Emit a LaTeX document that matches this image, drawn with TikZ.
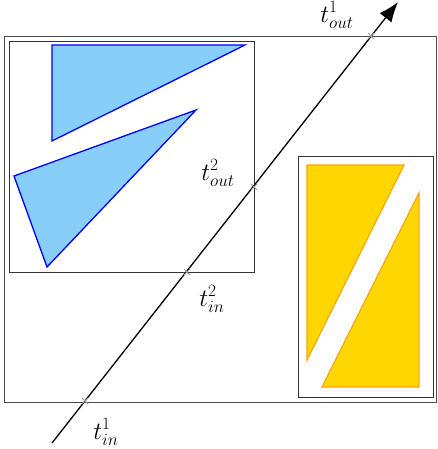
\documentclass[tikz,border=0pt]{standalone}
\usetikzlibrary{arrows.meta}
\definecolor{skyb}{RGB}{135,206,250}
\definecolor{goldy}{RGB}{255,215,0}
\definecolor{orangey}{RGB}{255,165,0}
\begin{document}
\begin{tikzpicture}[x=1pt,y=-1pt,
  box/.style={draw=black!80,line width=0.9pt},
  outerbox/.style={draw=black!70,line width=0.9pt},
  bluetri/.style={fill=skyb,draw=blue,line width=1.3pt,line join=miter},
  goldtri/.style={fill=goldy,draw=orangey,line width=1.2pt},
  cross/.style={draw=black!40,line width=0.9pt},
  lbl/.style={font=\fontsize{27}{30}\selectfont,inner sep=0pt}]
\useasboundingbox (0,0) rectangle (438,449);
\draw[outerbox] (4,36) rectangle (436,402);
\draw[box] (9,41) rectangle (254,272);
\draw[box] (298,156) rectangle (433,397);
\draw[bluetri] (52,45) -- (245,45) -- (52,141) -- cycle;
\draw[bluetri] (14,176) -- (196,110) -- (47,267) -- cycle;
\draw[goldtri] (307,165) -- (404,165) -- (307,360) -- cycle;
\draw[goldtri] (419,193) -- (419,387) -- (322,387) -- cycle;
\coordinate (s) at (52,443);
\coordinate (e) at (398,2);
\draw[line width=1.3pt,-{Latex[length=20pt,width=15pt]}] (s) -- (e);
\foreach \n/\x/\y in {a/85/401,b/187/272,c/254/187,d/371/36}{
  \coordinate (\n) at (\x,\y);
  \draw[cross] (\x-3,\y-3) -- (\x+3,\y+3) (\x-3,\y+3) -- (\x+3,\y-3);
}
\node[lbl] (l1) at (106,432) {$t^1_{in}$};
\node[lbl] (l2) at (212,299) {$t^2_{in}$};
\node[lbl] (l3) at (218,173) {$t^2_{out}$};
\node[lbl] (l4) at (337,15) {$t^1_{out}$};
\end{tikzpicture}
\end{document}
